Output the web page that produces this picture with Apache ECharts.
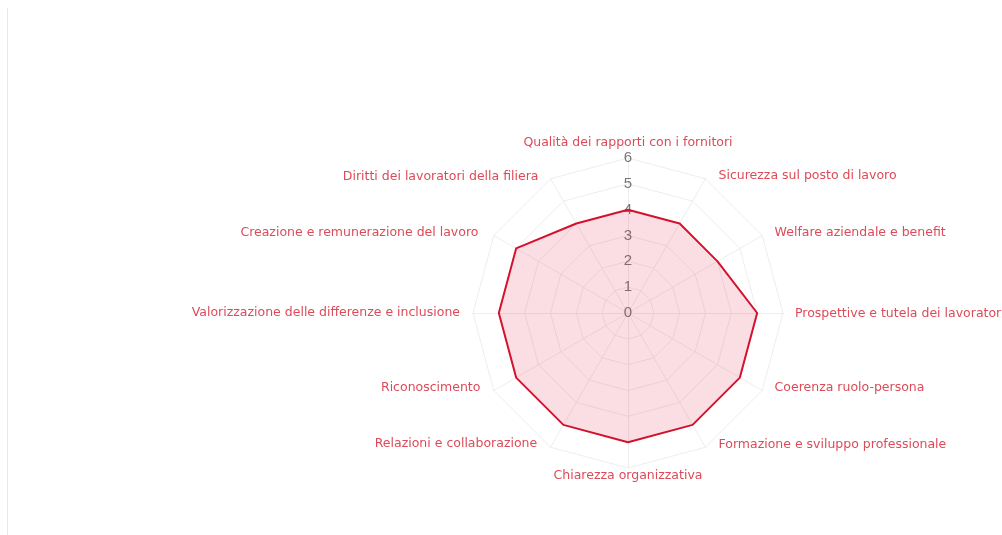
<!DOCTYPE html>
<html>
<head>
<meta charset="utf-8">
<script src="https://cdn.jsdelivr.net/npm/echarts@6/dist/echarts.min.js"></script>
<style>
html,body{margin:0;padding:0;background:#fff;}
#wrap{position:absolute;left:7px;top:8px;width:995px;height:527px;border-left:1px solid #e8e8e8;}
#chart{position:absolute;left:0;top:0;width:1002px;height:535px;}
</style>
</head>
<body>
<div id="wrap"></div>
<div id="chart"></div>
<script>
// Indicators listed counter-clockwise starting from the top (ECharts radar order)
const categories = [
  "Qualità dei rapporti con i fornitori",
  "Diritti dei lavoratori della filiera",
  "Creazione e remunerazione del lavoro",
  "Valorizzazione delle differenze e inclusione",
  "Riconoscimento",
  "Relazioni e collaborazione",
  "Chiarezza organizzativa",
  "Formazione e sviluppo professionale",
  "Coerenza ruolo-persona",
  "Prospettive e tutela dei lavoratori",
  "Welfare aziendale e benefit",
  "Sicurezza sul posto di lavoro"
];
const values = [4, 4, 5, 5, 5, 5, 5, 5, 5, 5, 4, 4];
const scaleMax = 6;
const tickLabels = ["0", "1", "2", "3", "4", "5", "6"];

// label paddings [top, right, bottom, left] per indicator (style only)
const namePads = [
  [0, 0, 8, 0],
  [0, 11.5, 3, 0],
  [0, 14.5, 3.6, 0],
  [0, 12, 0, 0],
  [0, 12.5, 7, 0],
  [0, 12.8, 9.6, 0],
  [0, 0, 0, 0],
  [0, 0, 7, 12.5],
  [0, 0, 7, 11.5],
  [2, 0, 0, 11],
  [0, 0, 5, 11.5],
  [0, 0, 5, 12.5]
];

const NAME_COLOR = '#dd4a58';
const NAME_FONT = 'DejaVu Sans, Verdana, sans-serif';
const rich = {};
namePads.forEach((p, i) => {
  rich['p' + i] = {padding: p, color: NAME_COLOR, fontSize: 12.5, fontFamily: NAME_FONT};
});

const chart = echarts.init(document.getElementById('chart'), null, {renderer: 'canvas'});
const indicator = categories.map((name, i) => {
  const o = {name: name, min: 0, max: scaleMax};
  if (i === 0) {
    o.axisLabel = {
      show: true, margin: 0, align: 'center', verticalAlign: 'middle',
      color: '#777', fontSize: 15, fontFamily: 'Arial, Liberation Sans, sans-serif',
      formatter: v => tickLabels[Math.round(v)] !== undefined ? tickLabels[Math.round(v)] : ''
    };
  }
  return o;
});
chart.setOption({
  animation: false,
  radar: {
    center: [628, 313],
    radius: 155,
    startAngle: 90,
    splitNumber: 6,
    shape: 'polygon',
    indicator: indicator,
    nameGap: 1,
    axisName: {
      color: NAME_COLOR,
      fontSize: 12.5,
      fontFamily: NAME_FONT,
      formatter: function (name) {
        const i = categories.indexOf(name);
        return '{p' + i + '|' + name + '}';
      },
      rich: rich
    },
    axisLine: {lineStyle: {color: '#ededed', width: 1}},
    splitLine: {lineStyle: {color: '#ededed', width: 1}},
    splitArea: {show: false},
    axisTick: {show: false},
    axisLabel: {show: false}
  },
  series: [{
    type: 'radar',
    symbol: 'none',
    lineStyle: {color: '#d3122c', width: 2},
    areaStyle: {color: 'rgba(220, 20, 60, 0.2)'},
    data: [{value: values}]
  }]
});
</script>
</body>
</html>
